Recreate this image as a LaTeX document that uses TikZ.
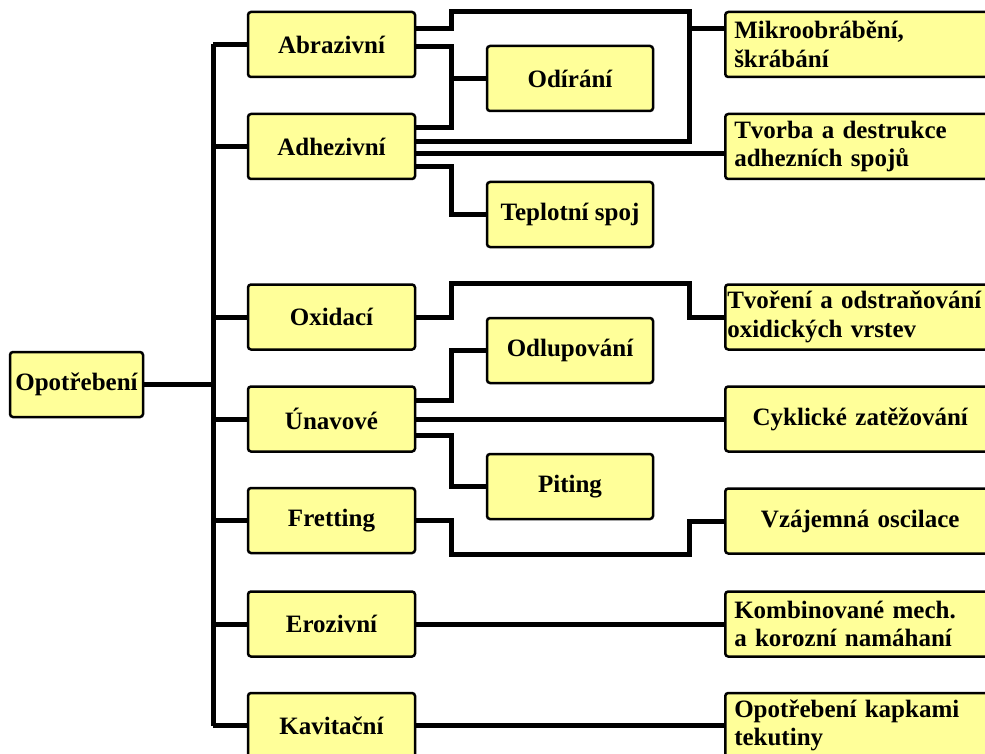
\documentclass[tikz,border=0pt]{standalone}
\usepackage{fontspec}
\setmainfont{Liberation Serif}
\definecolor{boxyellow}{RGB}{255,255,153}
\tikzset{
  box/.style={draw=black, line width=2.5pt, fill=boxyellow, rounded corners=3pt,
    minimum height=65pt, inner sep=2pt, font=\bfseries\fontsize{25}{28.5}\selectfont},
  lbox/.style={box, minimum width=167pt},
  mbox/.style={box, minimum width=166pt},
  rbox/.style={box, anchor=west, text width=252pt, inner xsep=9pt, align=left},
  wire/.style={line width=5pt}
}
\begin{document}
\begin{tikzpicture}[x=1pt, y=-1pt]
  \useasboundingbox (0,0) rectangle (985,754);
  \clip (0,0) rectangle (985,754);

  % Koren a prvni uroven
  \node[box, minimum width=133pt, inner xsep=1pt] (opo) at (76.5,384.5) {Opotřebení};
  \node[lbox] (abr) at (331.5,44.5) {Abrazivní};
  \node[lbox] (adh) at (331.5,146.5) {Adhezivní};
  \node[lbox] (oxi) at (331.5,317) {Oxidací};
  \node[lbox] (una) at (331.5,419) {Únavové};
  \node[lbox] (fre) at (331.5,520.5) {Fretting};
  \node[lbox] (ero) at (331.5,624) {Erozivní};
  \node[lbox] (kav) at (331.5,725.5) {Kavitační};

  % Prostredni sloupec
  \node[mbox] (odi) at (570,78.5) {Odírání};
  \node[mbox] (tep) at (570,214.5) {Teplotní spoj};
  \node[mbox] (odl) at (570,350.5) {Odlupování};
  \node[mbox] (pit) at (570,486.5) {Piting};

  % Pravy sloupec
  \node[rbox] (mik) at (724,44.5) {Mikroobrábění,\\škrábání};
  \node[rbox] (tvb) at (724,146.5) {Tvorba a destrukce\\adhezních spojů};
  \node[rbox, inner xsep=2pt, text width=266pt] (tvo) at (724,317) {Tvoření a odstraňování\\oxidických vrstev};
  \node[rbox, align=center] (cyk) at (724,419) {Cyklické zatěžování};
  \node[rbox, align=center] (vza) at (724,521) {Vzájemná oscilace};
  \node[rbox] (kom) at (724,624) {Kombinované mech.\\a korozní namáhaní};
  \node[rbox] (kap) at (724,725.5) {Opotřebení kapkami\\tekutiny};

  % Sloupce ohybu
  \coordinate (xt) at (213,0);
  \coordinate (xa) at (451,0);
  \coordinate (xb) at (689,0);

  % Kmen
  \draw[wire] (opo.east) -- (opo.east -| xt);
  \draw[wire] (xt |- abr.west) -- (xt |- kav.west);
  \foreach \n in {abr,adh,oxi,una,fre,ero,kav}
    \draw[wire] (xt |- \n.west) -- (\n.west);

  % Abrazivni, Adhezivni
  \draw[wire] ([yshift=16pt]abr.east) -| (451,12) -| (689,142) -- ([yshift=4.5pt]adh.east);
  \draw[wire] ([yshift=16pt]mik.west) -- ([yshift=16pt]mik.west -| xb);
  \draw[wire] ([yshift=-2pt]abr.east) -| (451,128) -- ([yshift=18.5pt]adh.east);
  \draw[wire] (odi.west) -- (odi.west -| xa);
  \draw[wire] ([yshift=-7.5pt]adh.east) -- ([yshift=-7.5pt]tvb.west);
  \draw[wire] ([yshift=-20.5pt]adh.east) -| (xa |- tep.west) -- (tep.west);

  % Oxidaci
  \draw[wire] (oxi.east) -| (451,283) -| (xb |- tvo.west) -- (tvo.west);

  % Unavove
  \draw[wire] ([yshift=19pt]una.east) -| (xa |- odl.west) -- (odl.west);
  \draw[wire] (una.east) -- (cyk.west);
  \draw[wire] ([yshift=-16pt]una.east) -| (xa |- pit.west) -- (pit.west);

  % Fretting
  \draw[wire] (fre.east) -| (451,554) -| (xb |- vza.west) -- (vza.west);

  % Erozivni, Kavitacni
  \draw[wire] (ero.east) -- (kom.west);
  \draw[wire] (kav.east) -- (kap.west);
\end{tikzpicture}
\end{document}
